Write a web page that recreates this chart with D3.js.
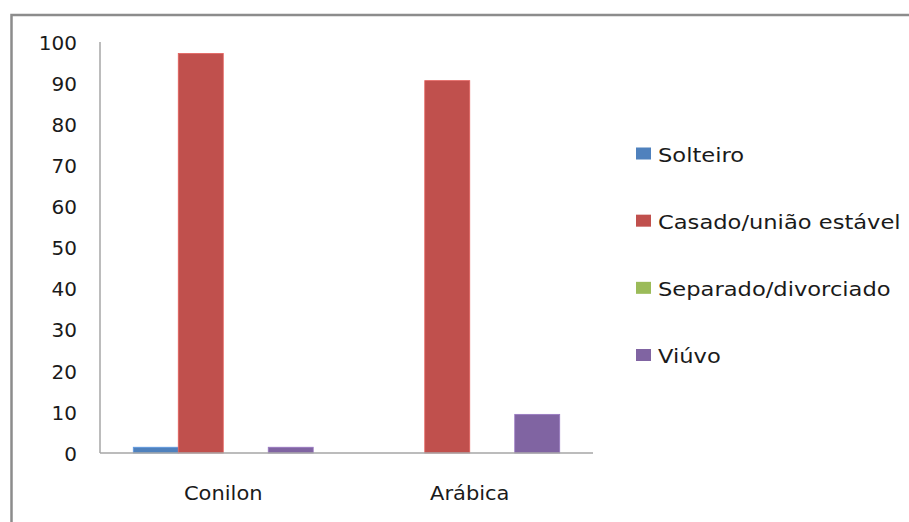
<!DOCTYPE html>
<html>
<head>
<meta charset="utf-8">
<script src="https://cdn.jsdelivr.net/npm/d3@7"></script>
<style>
  html, body { margin: 0; padding: 0; background: #fff; }
  svg text { font-family: "DejaVu Sans", sans-serif; fill: #1a1a1a; }
</style>
</head>
<body>
<svg id="chart" width="909" height="522"></svg>
<script>
// Marital status of coffee growers, by coffee type (%)
const categories = ["Conilon", "Arábica"];
const seriesNames = ["Solteiro", "Casado/união estável", "Separado/divorciado", "Viúvo"];
const seriesColors = ["#4F81BD", "#C0504D", "#9BBB59", "#8064A2"];
const valuesConilon = [1.4, 97.2, 0, 1.4];
const valuesArabica = [0, 90.6, 0, 9.4];
const yTicks = [0, 10, 20, 30, 40, 50, 60, 70, 80, 90, 100];

const rows = [valuesConilon, valuesArabica].map((vals, i) => ({
  category: categories[i],
  values: vals.map((v, j) => ({ series: seriesNames[j], value: v }))
}));

const svg = d3.select("#chart");

// outer frame (clipped by the page on the right and bottom)
svg.append("rect")
  .attr("x", 11.5).attr("y", 15)
  .attr("width", 1000).attr("height", 1000)
  .attr("fill", "none").attr("stroke", "#8c8c8c").attr("stroke-width", 2.5);

const plot = { left: 100, right: 593, top: 42, bottom: 453 };

const x = d3.scaleBand().domain(categories).range([plot.left, plot.right]).padding(0);
const groupWidth = x.bandwidth() * 0.73;
const xs = d3.scaleBand().domain(seriesNames)
  .range([(x.bandwidth() - groupWidth) / 2, (x.bandwidth() + groupWidth) / 2]).padding(0);
const y = d3.scaleLinear().domain([0, 100]).range([plot.bottom, plot.top]);

// y axis labels
const yAxis = svg.append("g")
  .attr("transform", `translate(${plot.left},0)`)
  .call(d3.axisLeft(y).tickValues(yTicks).tickSize(0).tickPadding(23));
yAxis.select(".domain").remove();
yAxis.selectAll("text")
  .attr("font-size", 20).attr("font-family", "DejaVu Sans, sans-serif")
  .attr("fill", "#1a1a1a").attr("dy", "0.36em");

// bars
const groups = svg.selectAll("g.cat").data(rows).join("g")
  .attr("class", "cat")
  .attr("transform", d => `translate(${x(d.category)},0)`);

groups.selectAll("rect").data(d => d.values.filter(v => v.value > 0)).join("rect")
  .attr("x", d => xs(d.series))
  .attr("width", xs.bandwidth())
  .attr("y", d => y(d.value))
  .attr("height", d => y(0) - y(d.value))
  .attr("fill", d => seriesColors[seriesNames.indexOf(d.series)])
  .attr("stroke", d => d3.color(seriesColors[seriesNames.indexOf(d.series)]).brighter(0.5))
  .attr("stroke-width", 0.8);

// axis lines
svg.append("line")
  .attr("x1", plot.left).attr("x2", plot.left)
  .attr("y1", plot.top).attr("y2", plot.bottom)
  .attr("stroke", "#a6a6a6").attr("stroke-width", 1.5);
svg.append("line")
  .attr("x1", plot.left).attr("x2", plot.right)
  .attr("y1", plot.bottom).attr("y2", plot.bottom)
  .attr("stroke", "#a6a6a6").attr("stroke-width", 1.5);

// category labels (slightly widened glyphs)
svg.selectAll("g.cat-label").data(categories).join("g")
  .attr("class", "cat-label")
  .attr("transform", d => `translate(${x(d) + x.bandwidth() / 2},500) scale(1.05,1)`)
  .append("text")
  .attr("text-anchor", "middle")
  .attr("font-size", 20)
  .text(d => d);

// legend
const legend = svg.append("g").attr("transform", "translate(636,0)");
const ly = d3.scalePoint().domain(seriesNames).range([153.5, 355]);
legend.selectAll("rect").data(seriesNames).join("rect")
  .attr("x", 0).attr("y", d => ly(d) - 6)
  .attr("width", 15).attr("height", 12)
  .attr("fill", (d, i) => seriesColors[i]);
legend.selectAll("g.item").data(seriesNames).join("g")
  .attr("class", "item")
  .attr("transform", d => `translate(22,${ly(d) + 8}) scale(1.13,1)`)
  .append("text")
  .attr("font-size", 20)
  .text(d => d);
</script>
</body>
</html>
